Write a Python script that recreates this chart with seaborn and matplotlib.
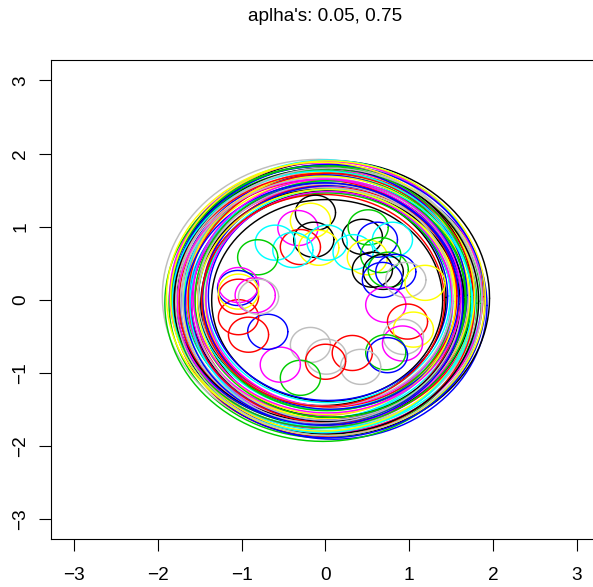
import numpy as np
import pandas as pd
import matplotlib
matplotlib.use("Agg")
import matplotlib.pyplot as plt
import seaborn as sns

# ---------------- data ----------------
TITLE = "aplha's: 0.05, 0.75"
tick_values = [-3, -2, -1, 0, 1, 2, 3]

R_COLORS = {"black": "#000000", "red": "#FF0000", "green3": "#00CD00",
            "blue": "#0000FF", "cyan": "#00FFFF", "magenta": "#FF00FF",
            "yellow": "#FFFF00", "gray": "#BEBEBE"}

# large circles (ring), 8 per colour
big_x = [0.02, 0.08, -0.05, 0.03, -0.02, 0.06, -0.04, 0.01,
         -0.06, 0.04, 0.02, -0.08, 0.07, -0.02, 0.05, -0.03,
         -0.03, 0.01, 0.05, -0.07, -0.03, 0.06, 0.02, -0.05,
         0.10, 0.03, -0.05, 0.00, -0.07, 0.04, 0.06, -0.02,
         -0.03, 0.05, -0.06, 0.02, 0.07, -0.01, 0.03, -0.04,
         -0.05, 0.03, 0.06, -0.04, 0.01, -0.07, 0.04, 0.02,
         0.10, -0.05, 0.04, -0.02, 0.06, -0.06, 0.01, 0.03,
         -0.08, 0.05, -0.03, 0.02, 0.06, -0.05, 0.00, 0.04]
big_y = [-0.01, 0.02, 0.05, -0.04, 0.06, -0.06, 0.03, -0.02,
         0.00, -0.06, 0.04, -0.03, 0.02, -0.07, 0.05, -0.01,
         -0.05, 0.02, 0.06, 0.03, -0.05, 0.01, -0.03, 0.04,
         -0.08, 0.05, 0.01, -0.03, 0.06, -0.02, 0.03, -0.06,
         0.04, -0.02, -0.05, 0.06, -0.06, 0.00, 0.05, -0.03,
         0.06, -0.07, 0.04, -0.02, 0.03, -0.05, 0.01, 0.05,
         -0.05, 0.02, 0.06, -0.06, 0.00, 0.04, -0.03, 0.02,
         0.05, -0.04, 0.03, -0.06, 0.04, -0.01, 0.06, -0.03]
big_r = [1.38, 1.88, 1.72, 1.63, 1.78, 1.55, 1.48, 1.82,
         1.76, 1.60, 1.86, 1.67, 1.71, 1.80, 1.52, 1.45,
         1.84, 1.68, 1.57, 1.74, 1.89, 1.62, 1.49, 1.79,
         1.83, 1.43, 1.70, 1.62, 1.76, 1.87, 1.53, 1.66,
         1.66, 1.74, 1.58, 1.85, 1.69, 1.51, 1.46, 1.79,
         1.81, 1.64, 1.72, 1.56, 1.86, 1.70, 1.47, 1.60,
         1.80, 1.61, 1.69, 1.75, 1.50, 1.84, 1.54, 1.88,
         1.87, 1.66, 1.73, 1.59, 1.77, 1.68, 1.52, 1.83]
big_col = (["black"] * 8 + ["red"] * 8 + ["green3"] * 8 + ["blue"] * 8 +
           ["cyan"] * 8 + ["magenta"] * 8 + ["yellow"] * 8 + ["gray"] * 8)

# small circles (inside the ring)
small_x = [-0.12, -0.18, -0.33, -0.14, -0.30, -0.08, -0.60, -0.39, -0.81, 0.02,
           0.44, 0.51, 0.62, 0.33, 0.80, 0.50, 0.66, 0.56, 0.75, 0.69,
           0.84, 0.68, 0.96, 1.19, 0.72, 0.98, 0.93, 1.05, 0.92, 0.72,
           0.74, 0.32, 0.42, -0.18, 0.01, 0.00, -0.30, -0.54, -0.69, -0.92,
           -1.04, -1.04, -1.05, -1.04, -1.04, -0.84, -0.80]
small_y = [1.19, 1.08, 0.98, 0.82, 0.72, 0.71, 0.78, 0.68, 0.58, 0.78,
           0.86, 0.99, 0.82, 0.65, 0.82, 0.58, 0.61, 0.41, 0.41, 0.38,
           0.38, 0.27, 0.27, 0.23, -0.07, -0.30, -0.51, -0.41, -0.60, -0.72,
           -0.76, -0.73, -0.92, -0.62, -0.78, -0.85, -1.07, -0.89, -0.44, -0.48,
           -0.24, 0.04, 0.16, 0.20, 0.11, 0.06, 0.04]
small_col = ["black", "yellow", "magenta", "black", "red", "yellow", "cyan", "cyan", "green3", "cyan",
             "black", "green3", "blue", "cyan", "cyan", "yellow", "green3", "black", "green3", "black",
             "blue", "blue", "gray", "yellow", "magenta", "red", "gray", "yellow", "magenta", "green3",
             "blue", "red", "gray", "gray", "gray", "red", "green3", "magenta", "blue", "red",
             "red", "red", "blue", "magenta", "yellow", "magenta", "gray"]
small_r = 0.24

# ---------------- build circle paths ----------------
theta = np.linspace(0, 2 * np.pi, 241)
frames = []
colmap = {}
cid = 0
for cx, cy, r, c in zip(big_x, big_y, big_r, big_col):
    frames.append(pd.DataFrame({"x": cx + r * np.cos(theta), "y": cy + r * np.sin(theta), "cid": cid}))
    colmap[cid] = R_COLORS[c]
    cid += 1
for cx, cy, c in zip(small_x, small_y, small_col):
    frames.append(pd.DataFrame({"x": cx + small_r * np.cos(theta), "y": cy + small_r * np.sin(theta), "cid": cid}))
    colmap[cid] = R_COLORS[c]
    cid += 1
df = pd.concat(frames, ignore_index=True)

# interleave drawing order of the ring colours (R draws circle by circle)
order = []
for k in range(8):
    for j in range(8):
        order.append(j * 8 + k)
order += list(range(64, cid))
df["draw"] = df["cid"].map({c: i for i, c in enumerate(order)})
df = df.sort_values(["draw"], kind="stable")

# ---------------- plot ----------------
sns.set_style("ticks")
plt.rcParams["font.family"] = ["Liberation Sans", "DejaVu Sans"]
plt.rcParams["axes.unicode_minus"] = True

fig = plt.figure(figsize=(5.93, 5.87), dpi=100)
ax = fig.add_axes([51 / 593, (587 - 539.3) / 587, 549 / 593, 479.3 / 587])

sns.lineplot(data=df, x="x", y="y", hue="draw", units="draw", estimator=None,
             sort=False, palette={order.index(k): v for k, v in colmap.items()},
             legend=False, linewidth=1.05, ax=ax)

ax.set_xlim(-3.28, 3.28)
ax.set_ylim(-3.28, 3.28)
ax.set_xticks(tick_values)
ax.set_yticks(tick_values)
ax.set_xlabel("")
ax.set_ylabel("")
for s in ax.spines.values():
    s.set_visible(True)
    s.set_color("black")
    s.set_linewidth(0.8)
ax.tick_params(axis="both", length=8.6, width=0.8, color="black",
               labelsize=13.7, labelcolor="black")
ax.tick_params(axis="x", pad=11.5)
ax.tick_params(axis="y", pad=7, labelrotation=90)
for lab in ax.get_yticklabels():
    lab.set_va("center")
ax.set_title(TITLE, fontsize=13.7, pad=28, color="black")
ax.set_facecolor("white")
fig.patch.set_facecolor("white")

fig.savefig("out.png", dpi=100)
